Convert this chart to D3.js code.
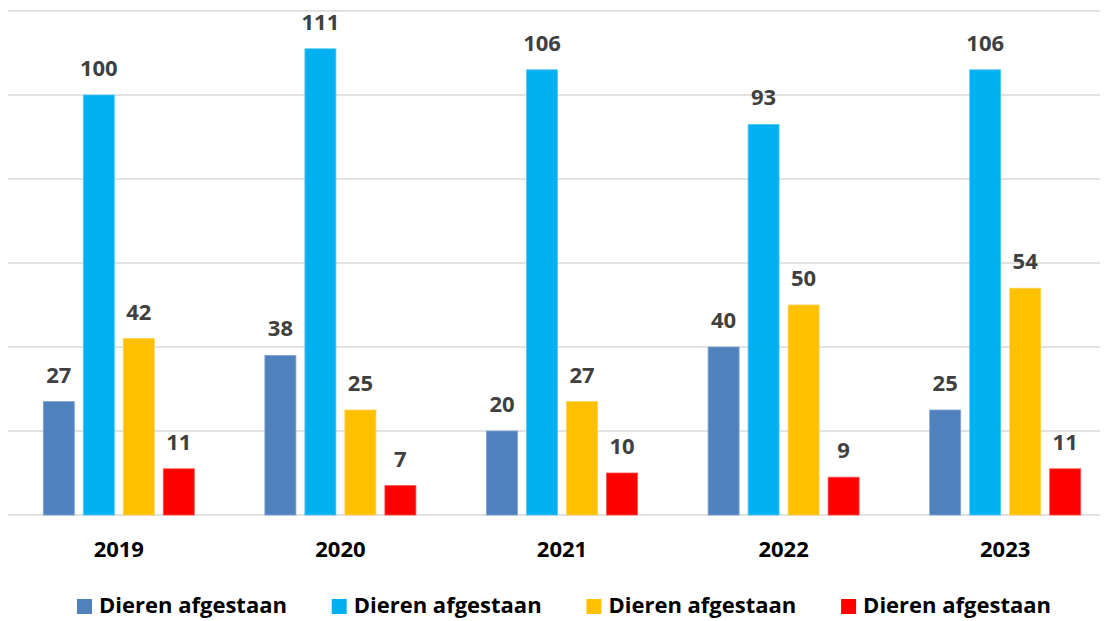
<!DOCTYPE html>
<html>
<head>
<meta charset="utf-8">
<script src="https://cdn.jsdelivr.net/npm/d3@7"></script>
<style>
  body { margin: 0; background: #fff; }
  svg { display: block; font-family: "Open Sans", Carlito, Calibri, sans-serif; }
</style>
</head>
<body>
<svg width="1108" height="621"></svg>
<script>
const years = ['2019', '2020', '2021', '2022', '2023'];
const seriesNames = ['Dieren afgestaan', 'Dieren afgestaan', 'Dieren afgestaan', 'Dieren afgestaan'];
const seriesA = [27, 38, 20, 40, 25];
const seriesB = [100, 111, 106, 93, 106];
const seriesC = [42, 25, 27, 50, 54];
const seriesD = [11, 7, 10, 9, 11];
const yTicks = [0, 20, 40, 60, 80, 100, 120];
const colors = ['#4f81bd', '#00b0f0', '#ffc000', '#ff0000'];
const edges = ['#7ea3d3', '#4dc9f5', '#ffd04d', '#ff4d4d'];

const allSeries = [seriesA, seriesB, seriesC, seriesD];

const svg = d3.select('svg');

const x0 = d3.scaleBand()
  .domain(years)
  .range([8, 1116]);

const x1 = d3.scaleBand()
  .domain(d3.range(allSeries.length))
  .range([0, 151])
  .paddingInner(0.225);

const x1Offset = (x0.bandwidth() - 151) / 2;

const y = d3.scaleLinear()
  .domain([0, 120])
  .range([515, 11]);

// gridlines
svg.append('g')
  .selectAll('line')
  .data(yTicks)
  .enter().append('line')
    .attr('x1', 8)
    .attr('x2', 1100)
    .attr('y1', d => y(d))
    .attr('y2', d => y(d))
    .attr('stroke', '#d9d9d9')
    .attr('stroke-width', 1.5);

const groups = svg.append('g')
  .selectAll('g')
  .data(years)
  .enter().append('g')
    .attr('transform', d => `translate(${x0(d) + x1Offset},0)`);

groups.selectAll('rect')
  .data((d, i) => allSeries.map((s, k) => ({ k, v: s[i] })))
  .enter().append('rect')
    .attr('x', d => x1(d.k))
    .attr('y', d => y(d.v))
    .attr('width', x1.bandwidth())
    .attr('height', d => y(0) - y(d.v))
    .attr('fill', d => colors[d.k])
    .attr('stroke', d => edges[d.k])
    .attr('stroke-width', 0.8);

groups.selectAll('text')
  .data((d, i) => allSeries.map((s, k) => ({ k, v: s[i] })))
  .enter().append('text')
    .attr('x', d => x1(d.k) + x1.bandwidth() / 2)
    .attr('y', d => y(d.v) - 19)
    .attr('text-anchor', 'middle')
    .attr('font-size', 22)
    .attr('font-weight', 'bold')
    .attr('fill', '#404040')
    .text(d => d.v);

// x axis labels
svg.append('g')
  .selectAll('text')
  .data(years)
  .enter().append('text')
    .attr('x', d => x0(d) + x0.bandwidth() / 2)
    .attr('y', 557)
    .attr('text-anchor', 'middle')
    .attr('font-size', 22)
    .attr('font-weight', 'bold')
    .attr('fill', '#000')
    .text(d => d);

// legend
const legend = svg.append('g')
  .selectAll('g')
  .data(seriesNames)
  .enter().append('g')
    .attr('transform', (d, i) => `translate(${77 + i * 254.7},0)`);

legend.append('rect')
  .attr('x', 0)
  .attr('y', 599)
  .attr('width', 15)
  .attr('height', 15)
  .attr('fill', (d, i) => colors[i]);

legend.append('text')
  .attr('x', 22)
  .attr('y', 613)
  .attr('font-size', 22)
  .attr('font-weight', 'bold')
  .attr('fill', '#000')
  .text(d => d);
</script>
</body>
</html>
